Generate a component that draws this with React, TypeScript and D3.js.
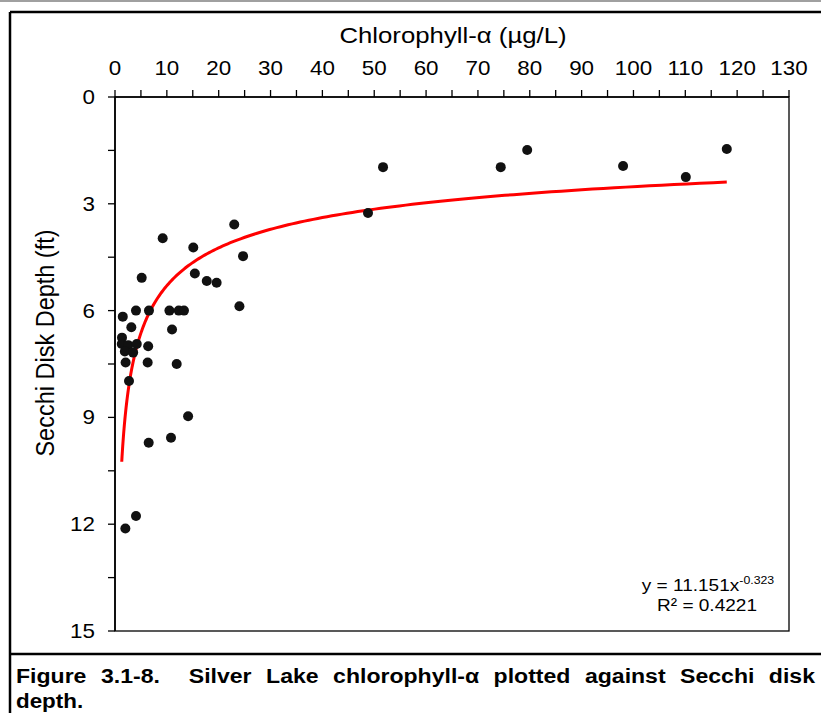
import React from "react";
import * as d3 from "d3";

// ---- data ----
const chlorophyll = [
  118.0, 110.1, 98.0, 79.5, 74.4, 51.7, 48.8,
  23.0, 9.2, 15.1, 24.7, 5.15, 15.4, 17.7, 19.6, 24.0,
  1.5, 4.05, 6.55, 10.5, 12.3, 13.3, 3.15, 11.0, 1.35,
  1.3, 2.55, 4.2, 6.4, 1.9, 3.5, 2.05, 6.3, 11.9, 2.7,
  14.1, 6.5, 10.8, 4.05, 2.0,
];
const secchi = [
  1.46, 2.25, 1.94, 1.49, 1.97, 1.97, 3.26,
  3.58, 3.97, 4.23, 4.47, 5.08, 4.96, 5.17, 5.22, 5.88,
  6.17, 6.0, 6.0, 6.0, 6.0, 6.0, 6.47, 6.53, 6.76,
  6.94, 6.97, 6.94, 7.0, 7.15, 7.18, 7.46, 7.46, 7.5, 7.98,
  8.97, 9.71, 9.57, 11.77, 12.12,
];
const xTickValues = [0, 10, 20, 30, 40, 50, 60, 70, 80, 90, 100, 110, 120, 130];
const yTickValues = [0, 3, 6, 9, 12, 15];
const trendCoef = 11.151;
const trendExp = -0.323;
const rSquared = "0.4221";

const xTitle = "Chlorophyll-α (µg/L)";
const yTitle = "Secchi Disk Depth (ft)";
const captionLine1 = "Figure 3.1-8.  Silver Lake chlorophyll-α plotted against Secchi disk";
const captionLine2 = "depth.";

const FONT = "'Liberation Sans', Arial, Helvetica, sans-serif";
const SX = 1.12;

function SText(props: any) {
  const { x, y, anchor = "start", size, weight = "normal", rotate, children, baseline, ...rest } = props;
  return (
    <text
      transform={`translate(${x},${y}) scale(${SX},1)${rotate ? ` rotate(${rotate})` : ""}`}
      textAnchor={anchor}
      fontSize={size}
      fontWeight={weight}
      fontFamily={FONT}
      dominantBaseline={baseline}
      fill="#000"
      {...rest}
    >
      {children}
    </text>
  );
}

export default function App() {
  const W = 821;
  const H = 713;
  const left = 115, right = 789, top = 97, bottom = 631;
  const x = d3.scaleLinear().domain([0, 130]).range([left, right]);
  const y = d3.scaleLinear().domain([0, 15]).range([top, bottom]);

  const xMinor = d3.range(0, 130.001, 5);
  const yMinor = d3.range(0, 15.001, 1.5);

  const xmin = d3.min(chlorophyll) as number;
  const xmax = d3.max(chlorophyll) as number;
  const curveX = d3.range(0, 201).map((i) => xmin * Math.pow(xmax / xmin, i / 200));
  const line = d3
    .line<number>()
    .x((v) => x(v))
    .y((v) => y(trendCoef * Math.pow(v, trendExp)))
    .curve(d3.curveLinear);

  return (
    <svg
      width={W}
      height={H}
      style={{ position: "absolute", left: 0, top: 0, display: "block", background: "#fff" }}
    >
      <rect x={0} y={0} width={W} height={H} fill="#fff" />
      {/* page frame */}
      <line x1={0} x2={W} y1={1} y2={1} stroke="#a0a0a0" strokeWidth={2} />
      <line x1={10} x2={W} y1={12} y2={12} stroke="#000" strokeWidth={2.5} />
      <line x1={10} x2={10} y1={12} y2={H} stroke="#000" strokeWidth={2.5} />
      <line x1={9} x2={W} y1={654} y2={654} stroke="#000" strokeWidth={2.5} />

      {/* plot border */}
      <rect x={left} y={top} width={right - left} height={bottom - top} fill="none" stroke="#000" strokeWidth={1.3} />
      <line x1={left} x2={right} y1={top} y2={top} stroke="#000" strokeWidth={1.6} />
      <line x1={left} x2={left} y1={top} y2={bottom} stroke="#000" strokeWidth={1.6} />

      {/* ticks */}
      {xMinor.map((v) => (
        <line key={"xt" + v} x1={x(v)} x2={x(v)} y1={top - 7} y2={top} stroke="#000" strokeWidth={1.3} />
      ))}
      {yMinor.map((v) => (
        <line key={"yt" + v} x1={left - 7} x2={left} y1={y(v)} y2={y(v)} stroke="#000" strokeWidth={1.3} />
      ))}

      {/* tick labels */}
      {xTickValues.map((v) => (
        <SText key={"xl" + v} x={x(v)} y={75} anchor="middle" size={20}>
          {v}
        </SText>
      ))}
      {yTickValues.map((v) => (
        <SText key={"yl" + v} x={95} y={y(v) + 7} anchor="end" size={20}>
          {v}
        </SText>
      ))}

      {/* axis titles */}
      <SText x={453} y={43} anchor="middle" size={23}>
        {xTitle}
      </SText>
      <SText x={54} y={343} anchor="middle" size={23.5} rotate={-90}>
        {yTitle}
      </SText>

      {/* trendline */}
      <path d={line(curveX) || ""} fill="none" stroke="#ff0000" strokeWidth={3} />

      {/* points */}
      {chlorophyll.map((c, i) => (
        <circle key={"p" + i} cx={x(c)} cy={y(secchi[i])} r={5} fill="#111" />
      ))}

      {/* equation */}
      <SText x={708} y={591} anchor="middle" size={17}>
        y = 11.151x
        <tspan fontSize={11} dy={-7}>
          {trendExp.toFixed(3)}
        </tspan>
      </SText>
      <SText x={707} y={611} anchor="middle" size={17}>
        R² = {rSquared}
      </SText>

      {/* caption */}
      <text
        x={16}
        y={683}
        fontFamily={FONT}
        fontWeight="bold"
        fontSize={20}
        textLength={799}
        lengthAdjust="spacingAndGlyphs"
        style={{ wordSpacing: "7px", whiteSpace: "pre" }}
        fill="#000"
      >
        {captionLine1}
      </text>
      <SText x={16} y={708} size={20} weight="bold">
        {captionLine2}
      </SText>
    </svg>
  );
}
